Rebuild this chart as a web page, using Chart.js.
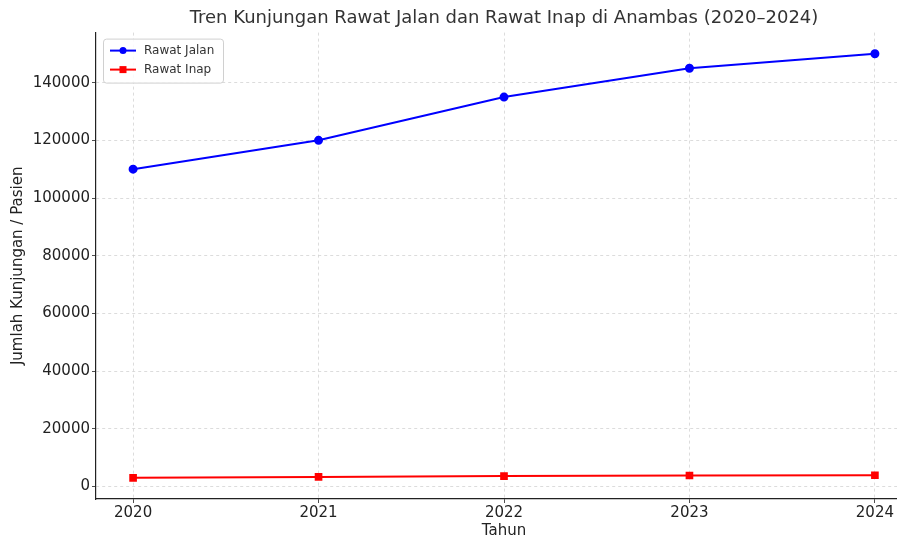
<!DOCTYPE html>
<html>
<head>
<meta charset="utf-8">
<script src="https://cdn.jsdelivr.net/npm/chart.js@4.4.0/dist/chart.umd.min.js"></script>
<style>
  html, body { margin: 0; padding: 0; background: #fff; }
  #wrap { width: 897px; height: 539px; overflow: hidden; position: relative; }
  #box { width: 918px; height: 539px; position: absolute; left: 0; top: 0; }
</style>
</head>
<body>
<div id="wrap"><div id="box"><canvas id="chart"></canvas></div></div>
<script>
  // chart data
  const years = [2020, 2021, 2022, 2023, 2024];
  const rawatJalan = [110000, 120000, 135000, 145000, 150000];
  const rawatInap = [3000, 3300, 3600, 3800, 3900];
  const yTicks = [0, 20000, 40000, 60000, 80000, 100000, 120000, 140000];

  const FONT = "'DejaVu Sans', sans-serif";

  // legend drawn inside the plot, top-left (like matplotlib)
  const innerLegend = {
    id: 'innerLegend',
    afterDraw: function (chart) {
      const ctx = chart.ctx;
      const a = chart.chartArea;
      const x = a.left + 7, y = a.top + 6, w = 120, h = 44;
      ctx.save();
      ctx.fillStyle = 'rgba(255,255,255,0.85)';
      ctx.strokeStyle = '#d0d0d0';
      ctx.lineWidth = 1;
      ctx.beginPath();
      ctx.roundRect(x + 0.5, y + 0.5, w, h, 3);
      ctx.fill();
      ctx.stroke();
      chart.data.datasets.forEach(function (ds, i) {
        const ly = y + 12 + i * 19;
        ctx.strokeStyle = ds.borderColor;
        ctx.lineWidth = 2;
        ctx.beginPath();
        ctx.moveTo(x + 7, ly);
        ctx.lineTo(x + 33, ly);
        ctx.stroke();
        ctx.fillStyle = ds.borderColor;
        if (ds.pointStyle === 'rect') {
          ctx.fillRect(x + 16.5, ly - 3.5, 7, 7);
        } else {
          ctx.beginPath();
          ctx.arc(x + 20, ly, 3.5, 0, Math.PI * 2);
          ctx.fill();
        }
        ctx.fillStyle = '#333';
        ctx.font = '12px ' + FONT;
        ctx.textBaseline = 'middle';
        ctx.fillText(ds.label, x + 41, ly);
      });
      ctx.restore();
    }
  };

  new Chart(document.getElementById('chart'), {
    type: 'line',
    data: {
      datasets: [
        {
          label: 'Rawat Jalan',
          data: years.map(function (y, i) { return { x: y, y: rawatJalan[i] }; }),
          borderColor: '#0000ff',
          backgroundColor: '#0000ff',
          borderWidth: 2,
          pointStyle: 'circle',
          pointRadius: 3.5,
          pointHoverRadius: 3.5,
          tension: 0
        },
        {
          label: 'Rawat Inap',
          data: years.map(function (y, i) { return { x: y, y: rawatInap[i] }; }),
          borderColor: '#ff0000',
          backgroundColor: '#ff0000',
          borderWidth: 2,
          pointStyle: 'rect',
          pointRadius: 4,
          pointHoverRadius: 4,
          tension: 0
        }
      ]
    },
    options: {
      responsive: true,
      maintainAspectRatio: false,
      animation: false,
      layout: { padding: { left: 0, right: 4, top: 0, bottom: 0 } },
      plugins: {
        legend: { display: false },
        tooltip: { enabled: false },
        title: {
          display: true,
          fullSize: false,
          text: 'Tren Kunjungan Rawat Jalan dan Rawat Inap di Anambas (2020\u20132024)',
          color: '#333',
          font: { family: FONT, size: 18, weight: 'normal' },
          padding: { top: 8, bottom: 3 }
        }
      },
      scales: {
        x: {
          type: 'linear',
          min: 2019.8,
          max: 2024.2,
          afterBuildTicks: function (s) { s.ticks = years.map(function (v) { return { value: v }; }); },
          afterFit: function (s) { s.height = 40; },
          ticks: {
            color: '#222',
            font: { family: FONT, size: 15 },
            padding: 1,
            callback: function (v) { return String(v); }
          },
          grid: {
            color: '#d4d4d4',
            tickColor: '#222',
            tickBorderDash: [],
            tickLength: 4,
            lineWidth: 0.8
          },
          border: { display: true, color: '#222', width: 1.2, dash: [3, 3] },
          title: {
            display: true,
            text: 'Tahun',
            color: '#222',
            font: { family: FONT, size: 15, lineHeight: 1.0 },
            padding: { top: 0, bottom: 0 }
          }
        },
        y: {
          min: -4350,
          max: 157350,
          afterBuildTicks: function (s) { s.ticks = yTicks.map(function (v) { return { value: v }; }); },
          afterFit: function (s) { s.width = 96; },
          ticks: {
            color: '#222',
            font: { family: FONT, size: 15 },
            padding: 2,
            callback: function (v) { return String(v); }
          },
          grid: {
            color: '#d4d4d4',
            tickColor: '#222',
            tickBorderDash: [],
            tickLength: 4,
            lineWidth: 0.8
          },
          border: { display: true, color: '#222', width: 1.2, dash: [3, 3] },
          title: {
            display: true,
            text: 'Jumlah Kunjungan / Pasien',
            color: '#222',
            font: { family: FONT, size: 15 },
            padding: { top: 9, bottom: 2 }
          }
        }
      }
    },
    plugins: [innerLegend]
  });
</script>
</body>
</html>
